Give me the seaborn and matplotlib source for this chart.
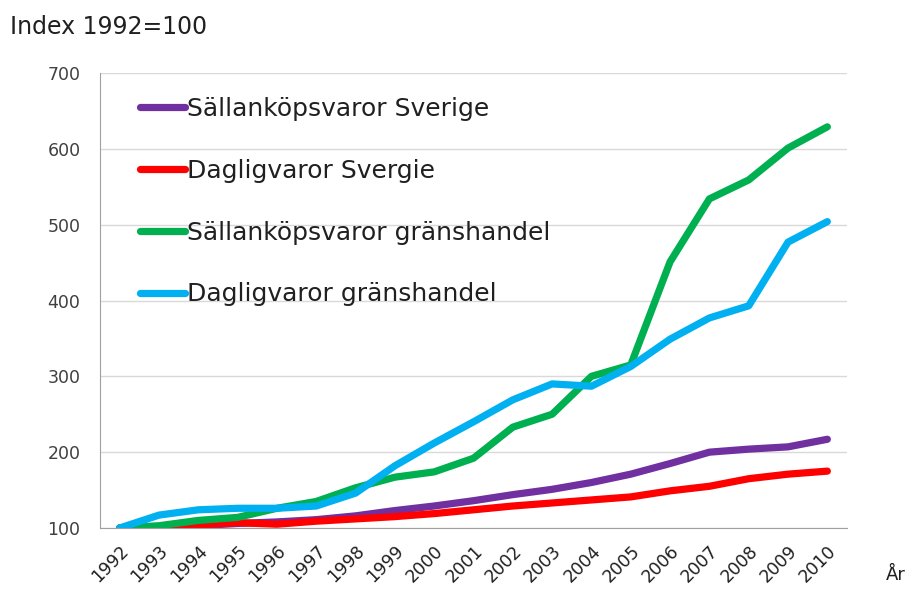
import numpy as np
import pandas as pd
import matplotlib.pyplot as plt
import seaborn as sns

years = [str(y) for y in range(1992, 2011)]
sallan_sverige = [100, 100, 103, 106, 108, 111, 116, 123, 129, 136, 144, 151, 160, 171, 185, 200, 204, 207, 217]
daglig_sverige = [100, 101, 104, 107, 105, 109, 112, 115, 119, 124, 129, 133, 137, 141, 149, 155, 165, 171, 175]
sallan_grans = [100, 103, 110, 114, 126, 135, 153, 167, 174, 192, 233, 250, 300, 315, 451, 534, 559, 601, 629]
daglig_grans = [100, 117, 124, 126, 126, 129, 146, 182, 212, 240, 269, 290, 287, 313, 349, 377, 393, 477, 504]

series_names = ["Sällanköpsvaror Sverige", "Dagligvaror Svergie",
                "Sällanköpsvaror gränshandel", "Dagligvaror gränshandel"]
colors = ["#7030A0", "#FF0000", "#00B050", "#00B0F0"]

df = pd.DataFrame({
    "x": list(range(len(years))) * 4,
    "value": sallan_sverige + daglig_sverige + sallan_grans + daglig_grans,
    "serie": np.repeat(series_names, len(years)),
})

sns.set_style("white")
plt.rcParams["font.family"] = ["DejaVu Sans"]

fig = plt.figure(figsize=(9.10, 5.89), dpi=100)
ax = fig.add_axes([100 / 910, 1 - 528 / 589, 747 / 910, 455 / 589])

sns.lineplot(data=df, x="x", y="value", hue="serie", palette=colors,
             hue_order=series_names, linewidth=5.2, ax=ax,
             solid_capstyle="round", solid_joinstyle="round")

ax.set_xlim(-0.5, len(years) - 0.5)
ax.set_ylim(100, 700)
ax.set_yticks(range(100, 701, 100))
ax.tick_params(axis="y", labelsize=12.5, labelcolor="#404040", color="#A0A0A0",
               length=5, width=1, pad=9)
ax.yaxis.grid(True, color="#D9D9D9", linewidth=1)

# category labels at centres, tick marks between categories
ax.set_xticks(range(len(years)))
ax.set_xticklabels(years, rotation=45, ha="right", rotation_mode="anchor")
ax.tick_params(axis="x", which="major", length=0, labelsize=12.5, labelcolor="#202020", pad=10)
ax.set_xticks(np.arange(-0.5, len(years)), minor=True)
ax.tick_params(axis="x", which="minor", length=5, color="#A0A0A0")

for side in ["top", "right"]:
    ax.spines[side].set_visible(False)
for side in ["left", "bottom"]:
    ax.spines[side].set_color("#A0A0A0")

ax.set_xlabel("")
ax.set_ylabel("")

leg = ax.legend(loc="upper left", bbox_to_anchor=(0.0535, 0.947), frameon=False,
                borderpad=0, borderaxespad=0,
                fontsize=18, handlelength=1.8, handletextpad=0.08, labelspacing=1.51)
for line in leg.get_lines():
    line.set_linewidth(5.2)
for txt in leg.get_texts():
    txt.set_color("#202020")

fig.text(10 / 910, 1 - 27 / 589, "Index 1992=100", fontsize=17, color="#202020", va="center")
fig.text(886 / 910, 1 - 575 / 589, "År", fontsize=13, color="#202020", va="center")

fig.savefig("out.png", dpi=100)
